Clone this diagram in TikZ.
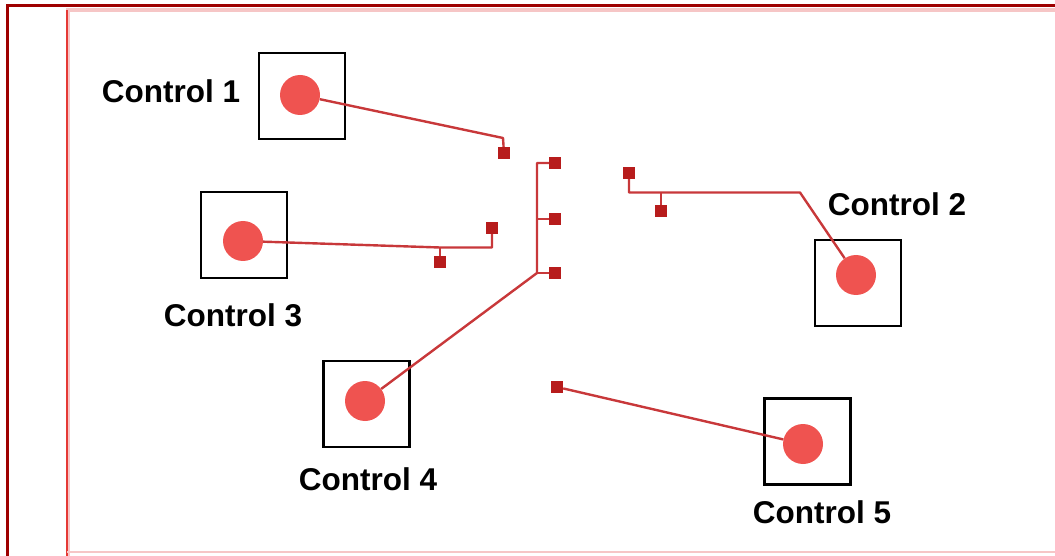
\documentclass[tikz,border=0pt]{standalone}
\usepackage{fontspec}
\setmainfont{Liberation Sans}
\definecolor{framedark}{HTML}{9E0000}
\definecolor{framered}{HTML}{E53935}
\definecolor{framepink}{HTML}{F6C6C6}
\definecolor{wirered}{HTML}{C8383A}
\definecolor{dotred}{HTML}{EF5350}
\definecolor{padred}{HTML}{B71C1C}
\begin{document}
\begin{tikzpicture}[x=1pt,y=-1pt,
  ctrlbox/.style={draw=black, line width=2.5pt, minimum size=86pt, inner sep=0pt},
  dot/.style={circle, fill=dotred, minimum size=40pt, inner sep=0pt},
  pad/.style={rectangle, fill=padred, minimum size=12pt, inner sep=0pt},
  wire/.style={draw=wirered, line width=2.4pt, line join=round},
  lbl/.style={font=\fontsize{31.5}{36}\selectfont\bfseries, inner sep=0pt, anchor=base}]
\useasboundingbox (0,0) rectangle (1055,556);
% frames
\draw[framepink, line width=4pt] (68,556) -- (68,10) -- (1055,10);
\draw[framered, line width=2pt] (67,556) -- (67,10);
\draw[framepink, line width=2pt] (67,552) -- (1055,552);
\draw[framedark, line width=3pt] (7,556) -- (7,6) -- (1055,6);
% boxes
\node[ctrlbox] (b1) at (302,96) {};
\node[ctrlbox] (b3) at (244,235) {};
\node[ctrlbox] (b4) at (366.5,404) {};
\node[ctrlbox] (b2) at (858,283) {};
\node[ctrlbox] (b5) at (807.5,441.5) {};
% pads
\node[pad] (p1) at (504,153) {};
\node[pad] (pt) at (555,163) {};
\node[pad] (pm) at (555,219) {};
\node[pad] (pb) at (555,273) {};
\node[pad] (p3a) at (492,228) {};
\node[pad] (p3b) at (440,262) {};
\node[pad] (p2a) at (629,173) {};
\node[pad] (p2b) at (661,211) {};
\node[pad] (p5) at (557,387) {};
% bend points
\coordinate (k1) at (503,138);
\coordinate (t1) at (537,163);
\coordinate (t2) at (537,219);
\coordinate (t3) at (537,273);
\coordinate (k3a) at (440,247.5);
\coordinate (k3b) at (492,247.5);
\coordinate (k2a) at (629,192.5);
\coordinate (k2b) at (661,192.5);
\coordinate (k2c) at (800,192.5);
% dots
\node[dot] (c1) at (300,95) {};
\node[dot] (c3) at (243,241) {};
\node[dot] (c4) at (365,401) {};
\node[dot] (c2) at (856,275) {};
\node[dot] (c5) at (803,444) {};
% wires
\draw[wire] (c1) -- (k1) -- (p1);
\draw[wire] (pt) -- (t1) -- (t3) -- (c4);
\draw[wire] (t2) -- (pm);
\draw[wire] (t3) -- (pb);
\draw[wire] (c3) -- (k3a) -- (k3b) -- (p3a);
\draw[wire] (k3a) -- (p3b);
\draw[wire] (p2a) -- (k2a) -- (k2c) -- (c2);
\draw[wire] (k2b) -- (p2b);
\draw[wire] (p5) -- (c5);
% labels
\node[lbl] (l1) at (171,103) {Control 1};
\node[lbl] (l3) at (233,326) {Control 3};
\node[lbl] (l4) at (368,490) {Control 4};
\node[lbl] (l2) at (897,216) {Control 2};
\node[lbl] (l5) at (822,523) {Control 5};
\end{tikzpicture}
\end{document}
